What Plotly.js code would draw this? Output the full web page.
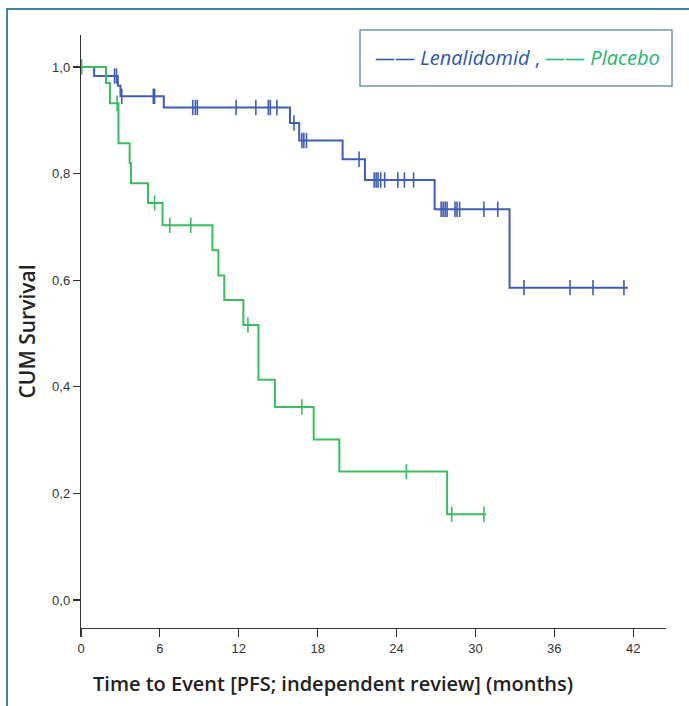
<!DOCTYPE html>
<html>
<head>
<meta charset="utf-8">
<script src="https://cdn.plot.ly/plotly-3.0.1.min.js"></script>
<style>
html,body{margin:0;padding:0;background:#fff;}
#chart{width:689px;height:706px;}
</style>
</head>
<body>
<div id="chart"></div>
<script>
// Lenalidomid: event times (months) and survival after each step
const lenTimes = [0, 1.0, 2.8, 3.0, 6.3, 15.9, 16.6, 19.9, 21.6, 26.9, 32.6, 41.6];
const lenSurv  = [1.0, 0.983, 0.965, 0.945, 0.924, 0.895, 0.862, 0.827, 0.788, 0.733, 0.586, 0.586];
const lenCensored = [2.55, 2.7, 3.1, 5.5, 5.6, 8.5, 8.7, 8.85, 11.8, 13.3, 14.25, 14.4, 14.9, 16.2,
  16.8, 16.95, 17.15, 21.15, 22.3, 22.45, 22.6, 22.8, 23.1, 24.1, 24.6, 25.3, 27.4, 27.55, 27.7,
  27.85, 28.45, 28.6, 28.8, 30.65, 31.7, 33.7, 37.2, 38.95, 41.3];

// Placebo
const plaTimes = [0, 1.9, 2.2, 2.85, 3.7, 3.8, 5.1, 6.2, 10.0, 10.45, 10.9, 12.35, 13.5, 14.75, 17.7, 19.65, 27.85, 30.8];
const plaSurv  = [1.0, 0.97, 0.932, 0.857, 0.82, 0.782, 0.745, 0.703, 0.656, 0.609, 0.563, 0.516, 0.413, 0.362, 0.301, 0.241, 0.161, 0.161];
const plaCensored = [0.05, 2.75, 5.6, 6.75, 8.35, 12.7, 16.8, 24.75, 28.2, 30.65];

const xTicks = [0, 6, 12, 18, 24, 30, 36, 42];
const yTicks = [0, 0.2, 0.4, 0.6, 0.8, 1.0];

const blue = '#3f5cb8';
const green = '#3dbb60';

function survAt(times, surv, t) {
  let s = surv[0];
  for (let i = 0; i < times.length; i++) { if (times[i] <= t) s = surv[i]; }
  return s;
}

const traces = [
  {x: lenTimes, y: lenSurv, type: 'scatter', mode: 'lines', line: {shape: 'hv', color: blue, width: 2}, hoverinfo: 'skip'},
  {x: plaTimes, y: plaSurv, type: 'scatter', mode: 'lines', line: {shape: 'hv', color: green, width: 2}, hoverinfo: 'skip'},
  {x: lenCensored, y: lenCensored.map(t => survAt(lenTimes, lenSurv, t)), type: 'scatter', mode: 'markers',
   marker: {symbol: 'line-ns-open', size: 11, color: blue, line: {color: blue, width: 1.6}}, hoverinfo: 'skip'},
  {x: plaCensored, y: plaCensored.map(t => survAt(plaTimes, plaSurv, t)), type: 'scatter', mode: 'markers',
   marker: {symbol: 'line-ns-open', size: 11, color: green, line: {color: green, width: 1.6}}, hoverinfo: 'skip'}
];

const L = 81, T = 35, W = 585, H = 593;
function px(xp) { return (xp - L) / W; }
function py(yp) { return 1 - (yp - T) / H; }

const layout = {
  width: 689, height: 706,
  margin: {l: L, r: 689 - L - W, t: T, b: 706 - T - H, pad: 0},
  paper_bgcolor: '#ffffff', plot_bgcolor: '#ffffff',
  showlegend: false,
  separators: ',.',
  xaxis: {
    range: [0, 44.5], tickvals: xTicks, ticktext: xTicks.map(String),
    showgrid: false, zeroline: false, showline: true, linecolor: '#333', linewidth: 1.2,
    ticks: 'outside', ticklen: 8, tickcolor: '#333', tickwidth: 1.2,
    tickfont: {family: 'Liberation Sans, Arial, sans-serif', size: 13, color: '#333'}
  },
  yaxis: {
    range: [-0.0525, 1.06], tickvals: yTicks, tickformat: '.1f',
    showgrid: false, zeroline: false, showline: true, linecolor: '#333', linewidth: 1.2,
    ticks: 'outside', ticklen: 7, tickcolor: '#333', tickwidth: 1.2,
    tickfont: {family: 'Liberation Sans, Arial, sans-serif', size: 13, color: '#333'},
    title: {text: 'CUM Survival', standoff: 10,
            font: {family: 'Open Sans, sans-serif', size: 21, color: '#222', weight: 600}}
  },
  shapes: [
    {type: 'line', xref: 'paper', yref: 'paper', x0: px(7), x1: px(7), y0: py(9), y1: py(720), line: {color: '#3a8696', width: 2}},
    {type: 'line', xref: 'paper', yref: 'paper', x0: px(6), x1: px(700), y0: py(9), y1: py(9), line: {color: '#3a8696', width: 2}},
    {type: 'rect', xref: 'paper', yref: 'paper', x0: px(360), x1: px(672), y0: py(86), y1: py(30), line: {color: '#6f9aa3', width: 1.5}, fillcolor: 'rgba(0,0,0,0)'}
  ],
  annotations: [
    {xref: 'paper', yref: 'paper', x: px(517), y: py(58), xanchor: 'center', yanchor: 'middle', showarrow: false,
     text: "<span style='color:#2a56a6'>—— <i>Lenalidomid</i> ,</span> <span style='color:#22b573'>—— <i>Placebo</i></span>",
     font: {family: 'Open Sans, sans-serif', size: 20}},
    {xref: 'paper', yref: 'paper', x: px(333), y: py(684), xanchor: 'center', yanchor: 'middle', showarrow: false,
     text: 'Time to Event [PFS; independent review] (months)',
     font: {family: 'Open Sans, sans-serif', size: 20, color: '#222', weight: 600}}
  ]
};

Plotly.newPlot('chart', traces, layout, {displayModeBar: false, staticPlot: true});
</script>
</body>
</html>
